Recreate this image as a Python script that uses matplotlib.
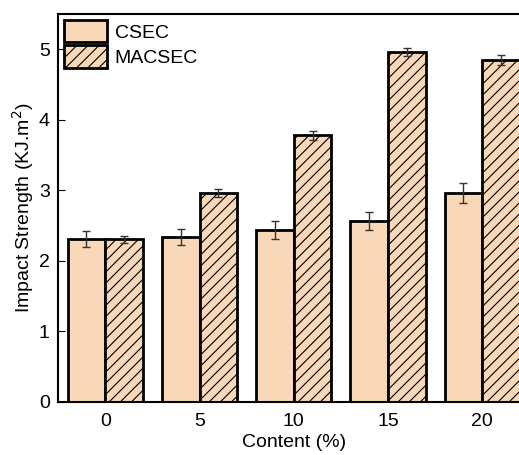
import matplotlib
matplotlib.use("Agg")
import matplotlib.pyplot as plt
import numpy as np

plt.rcParams['font.family'] = ['Liberation Sans', 'DejaVu Sans']
plt.rcParams['hatch.linewidth'] = 0.8

# data
content = ['0', '5', '10', '15', '20']
csec = [2.31, 2.34, 2.44, 2.57, 2.96]
csec_err = [0.11, 0.11, 0.13, 0.13, 0.14]
macsec = [2.31, 2.96, 3.78, 4.96, 4.85]
macsec_err = [0.05, 0.06, 0.06, 0.06, 0.07]

fill = '#F9D8BA'
x = np.arange(len(content))
w = 0.4

fig = plt.figure(figsize=(5.19, 4.55), dpi=100)
# axes run past the right edge of the figure, like the cropped original
ax = fig.add_axes([0.112, 0.1165, 0.908, 0.8525])

err_kw = dict(ecolor='#333333', elinewidth=1, capsize=3, capthick=1)
ax.bar(x - w / 2, csec, w, yerr=csec_err, color=fill, edgecolor='black',
       linewidth=2, label='CSEC', error_kw=err_kw)
ax.bar(x + w / 2, macsec, w, yerr=macsec_err, color=fill, edgecolor='black',
       linewidth=2, hatch='///', label='MACSEC', error_kw=err_kw)

ax.set_xlim(-0.5, 4.5)
ax.set_ylim(0, 5.5)
ax.set_xticks(x)
ax.set_xticklabels(content)
ax.set_yticks([0, 1, 2, 3, 4, 5])
ax.tick_params(axis='y', direction='in', length=5, labelsize=14, pad=6)
ax.tick_params(axis='x', length=0, labelsize=14, pad=8)
for s in ax.spines.values():
    s.set_linewidth(1.5)

ax.set_xlabel('Content (%)', fontsize=14, labelpad=3)
ax.set_ylabel('Impact Strength (KJ.m$^2$)', fontsize=14, labelpad=2)

ax.legend(loc='upper left', frameon=False, fontsize=14, handlelength=2.2,
          handleheight=1.4, borderaxespad=0.2, labelspacing=0.15,
          handletextpad=0.4, borderpad=0.1)

fig.savefig('out.png', dpi=100)
